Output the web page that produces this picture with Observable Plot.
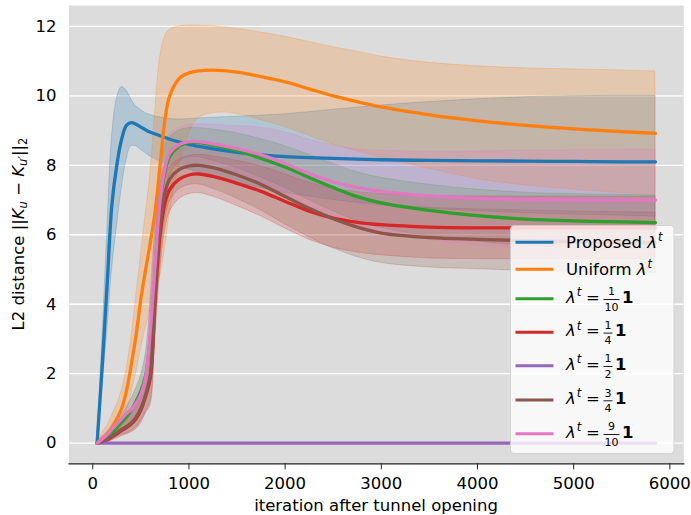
<!DOCTYPE html>
<html><head><meta charset="utf-8">
<script src="https://cdn.jsdelivr.net/npm/d3@7"></script>
<script src="https://cdn.jsdelivr.net/npm/@observablehq/plot@0.6"></script>
<style>
body{margin:0;background:#fff;font-family:"DejaVu Sans",sans-serif;}
#wrap{position:relative;width:691px;height:515px;overflow:hidden;}
</style></head><body><div id="wrap"></div>
<script>
// ---- data ----
const iterations = [45,100,150,200,250,300,350,400,450,500,550,600,650,700,750,800,900,1000,1100,1250,1500,1750,2000,2250,2500,2750,3000,3500,4000,4500,5000,5500,5850];

const proposedMean = [0,2.3,4.6,6.9,8.0,8.75,9.15,9.23,9.18,9.1,9.02,8.95,8.9,8.85,8.8,8.75,8.67,8.6,8.55,8.47,8.37,8.3,8.25,8.22,8.2,8.18,8.16,8.14,8.13,8.12,8.11,8.1,8.1];
const proposedHi   = [0,3.0,6.0,8.8,9.9,10.25,10.15,9.9,9.7,9.6,9.5,9.45,9.4,9.38,9.35,9.33,9.32,9.33,9.35,9.37,9.4,9.43,9.47,9.53,9.6,9.66,9.72,9.82,9.9,9.96,9.99,10.0,10.0];
const proposedLo   = [0,1.6,3.2,5.0,6.2,7.3,8.15,8.55,8.55,8.45,8.35,8.25,8.18,8.12,8.07,8.02,7.95,7.88,7.8,7.68,7.5,7.35,7.2,7.1,7.0,6.92,6.85,6.75,6.68,6.62,6.58,6.55,6.52];

const uniformMean = [0,0.15,0.28,0.45,0.7,1.0,1.5,2.25,3.1,4.15,5.0,5.8,6.7,8.0,9.3,10.0,10.5,10.66,10.72,10.74,10.68,10.55,10.4,10.2,10.0,9.83,9.68,9.45,9.28,9.15,9.05,8.97,8.92];
const uniformHi   = [0,0.3,0.5,0.8,1.1,1.5,2.1,3.0,4.2,5.4,6.6,7.8,9.6,11.1,11.7,11.9,12.0,12.02,12.02,12.0,11.93,11.82,11.7,11.55,11.4,11.27,11.13,10.95,10.85,10.79,10.76,10.73,10.7];
const uniformLo   = [0,0.05,0.1,0.15,0.3,0.5,0.9,1.4,2.0,2.7,3.3,3.8,4.3,4.8,5.6,6.6,8.0,8.9,9.35,9.5,9.48,9.3,9.1,8.85,8.6,8.4,8.22,7.9,7.6,7.42,7.3,7.2,7.15];

const tenthMean = [0,0.1,0.2,0.3,0.45,0.6,0.75,0.95,1.2,1.5,1.95,3.1,5.0,6.9,7.8,8.25,8.55,8.65,8.65,8.58,8.42,8.2,7.95,7.65,7.36,7.1,6.92,6.7,6.55,6.45,6.4,6.37,6.35];
const tenthSd   = [0,0.05,0.08,0.12,0.16,0.2,0.25,0.3,0.38,0.45,0.6,0.9,1.2,1.0,0.7,0.55,0.45,0.42,0.42,0.45,0.5,0.55,0.6,0.65,0.68,0.7,0.72,0.74,0.75,0.76,0.77,0.78,0.78];

const quarterMean = [0,0.05,0.1,0.18,0.27,0.36,0.45,0.55,0.7,0.95,1.35,1.9,4.2,6.0,6.9,7.3,7.6,7.72,7.75,7.68,7.48,7.25,6.96,6.68,6.48,6.36,6.29,6.22,6.2,6.2,6.2,6.2,6.2];
const quarterSd   = [0,0.05,0.08,0.1,0.13,0.16,0.2,0.24,0.3,0.38,0.5,0.8,1.2,1.1,0.8,0.65,0.57,0.55,0.55,0.58,0.65,0.72,0.78,0.82,0.85,0.87,0.88,0.9,0.9,0.9,0.9,0.9,0.9];

const halfMean = [0,0,0,0,0,0,0,0,0,0,0,0,0,0,0,0,0,0,0,0,0,0,0,0,0,0,0,0,0,0,0,0,0];
const halfSd   = [0,0,0,0,0,0,0,0,0,0,0,0,0,0,0,0,0,0,0,0,0,0,0,0,0,0,0,0,0,0,0,0,0];

const threeQuarterMean = [0,0.05,0.12,0.2,0.3,0.4,0.48,0.58,0.75,1.0,1.4,2.0,4.4,6.3,7.2,7.6,7.88,7.98,8.0,7.93,7.72,7.45,7.1,6.76,6.46,6.22,6.05,5.92,5.87,5.83,5.8,5.78,5.77];
const threeQuarterSd   = [0,0.05,0.08,0.1,0.13,0.16,0.2,0.24,0.3,0.38,0.5,0.8,1.2,1.1,0.8,0.65,0.57,0.55,0.55,0.6,0.68,0.75,0.8,0.83,0.85,0.86,0.86,0.86,0.86,0.87,0.87,0.87,0.87];

const nineTenthMean = [0,0.12,0.25,0.4,0.55,0.7,0.85,0.97,1.15,1.4,1.9,3.3,5.2,7.0,7.9,8.35,8.6,8.68,8.68,8.62,8.48,8.3,8.05,7.76,7.52,7.36,7.25,7.12,7.05,7.02,7.0,7.0,7.0];
const nineTenthSd   = [0,0.05,0.08,0.12,0.16,0.2,0.25,0.3,0.38,0.45,0.6,0.9,1.2,1.0,0.7,0.55,0.48,0.48,0.5,0.55,0.65,0.78,0.9,0.98,1.05,1.1,1.17,1.27,1.35,1.4,1.43,1.45,1.45];

const seriesKeys = ["proposed","uniform","tenth","quarter","half","threeQuarter","nineTenth"];
const seriesColors = ["#1f77b4","#ff7f0e","#2ca02c","#d62728","#9467bd","#8c564b","#e377c2"];
const legendNames = ["Proposed","Uniform",null,null,null,null,null];
const legendFractions = [null,null,["1","10"],["1","4"],["1","2"],["3","4"],["9","10"]];
const xTicks = [0,1000,2000,3000,4000,5000,6000];
const yTicks = [0,2,4,6,8,10,12];

// ---- build table ----
const seriesData = [
  {key:"proposed", mean:proposedMean, lo:proposedLo, hi:proposedHi},
  {key:"uniform", mean:uniformMean, lo:uniformLo, hi:uniformHi},
  {key:"tenth", mean:tenthMean, sd:tenthSd},
  {key:"quarter", mean:quarterMean, sd:quarterSd},
  {key:"half", mean:halfMean, sd:halfSd},
  {key:"threeQuarter", mean:threeQuarterMean, sd:threeQuarterSd},
  {key:"nineTenth", mean:nineTenthMean, sd:nineTenthSd}
];
const rows = seriesData.flatMap(s => iterations.map((x, i) => ({
  series: s.key, x, mean: s.mean[i],
  lo: s.sd ? s.mean[i] - s.sd[i] : s.lo[i],
  hi: s.sd ? s.mean[i] + s.sd[i] : s.hi[i]
})));

const FS = 16.5;
const CURVE = "catmull-rom";
const chart = Plot.plot({
  width: 691, height: 515,
  marginLeft: 68.5, marginRight: 7.7, marginTop: 5, marginBottom: 51.7,
  style: {fontFamily: "DejaVu Sans", fontSize: FS + "px", background: "transparent", color: "#000", overflow: "visible"},
  x: {domain: [-247, 6145]},
  y: {domain: [-0.593, 12.6]},
  color: {domain: seriesKeys, range: seriesColors},
  marks: [
    Plot.frame({fill: "#dcdcdc", stroke: null}),
    Plot.gridY(yTicks, {stroke: "#fff", strokeOpacity: 1, strokeWidth: 1.3}),
    Plot.areaY(rows, {x: "x", y1: "lo", y2: "hi", z: "series", fill: "series", fillOpacity: 0.22, stroke: "series", strokeOpacity: 0.25, strokeWidth: 1, curve: CURVE}),
    Plot.lineY(rows, {x: "x", y: "mean", z: "series", stroke: "series", strokeWidth: 3.3, curve: CURVE}),
    Plot.frame({anchor: "bottom", stroke: "#222", strokeWidth: 1.2}),
    Plot.axisX(xTicks, {tickSize: 6, tickPadding: 7, tickFormat: d => String(d), label: null, stroke: "#222", fontSize: FS}),
    Plot.axisY(yTicks, {tickSize: 0, tickPadding: 12.5, tickFormat: d => String(d), label: null, fontSize: FS})
  ]
});
document.getElementById("wrap").appendChild(chart);

const svg = d3.select(chart);
// axis titles
svg.append("text").attr("x", 376).attr("y", 510.5).attr("text-anchor", "middle")
  .attr("font-family", "DejaVu Sans").attr("font-size", FS).attr("fill", "#000")
  .text("iteration after tunnel opening");
const yl = svg.append("text").attr("transform", "translate(23.5,234) rotate(-90)").attr("text-anchor", "middle")
  .attr("font-family", "DejaVu Sans").attr("font-size", FS).attr("fill", "#000");
yl.append("tspan").text("L2 distance ||");
yl.append("tspan").attr("font-style", "italic").text("K");
yl.append("tspan").attr("font-style", "italic").attr("font-size", 11.5).attr("dy", 3).text("u");
yl.append("tspan").attr("dy", -3).text(" − ");
yl.append("tspan").attr("font-style", "italic").text("K");
yl.append("tspan").attr("font-style", "italic").attr("font-size", 11.5).attr("dy", 3).text("u′");
yl.append("tspan").attr("dy", -3).text("||");
yl.append("tspan").attr("font-size", 11.5).attr("dy", 3).text("2");

// legend
const rowCenters = [242.3, 269.3, 298.7, 332.3, 365.7, 400, 433.7];
const lg = svg.append("g").attr("font-family", "DejaVu Sans").attr("font-size", FS).attr("fill", "#000").attr("text-anchor", "start");
lg.append("rect").attr("x", 510.5).attr("y", 225.5).attr("width", 163.5).attr("height", 228).attr("rx", 3.5)
  .attr("fill", "#fff").attr("fill-opacity", 0.8).attr("stroke", "#ccc").attr("stroke-opacity", 0.8);
rowCenters.forEach((cy, i) => {
  lg.append("line").attr("x1", 515.5).attr("x2", 553.5).attr("y1", cy).attr("y2", cy)
    .attr("stroke", seriesColors[i]).attr("stroke-width", 3);
  if (legendNames[i]) {
    const t = lg.append("text").attr("x", 566).attr("y", cy + 5.7);
    t.append("tspan").text(legendNames[i] + " ");
    t.append("tspan").attr("font-style", "italic").text("λ");
    t.append("tspan").attr("font-style", "italic").attr("font-size", 11.5).attr("dy", -6.7).attr("dx", 1).text("t");
  } else {
    const base = cy + 4;
    const t = lg.append("text").attr("x", 566).attr("y", base);
    t.append("tspan").attr("font-style", "italic").text("λ");
    t.append("tspan").attr("font-style", "italic").attr("font-size", 11.5).attr("dy", -6.7).attr("dx", 1).text("t");
    lg.append("text").attr("x", 586).attr("y", base).text("=");
    const [num, den] = legendFractions[i];
    const n = lg.append("text").attr("font-size", 11).attr("text-anchor", "middle").attr("y", cy - 3.5).text(num);
    const d = lg.append("text").attr("font-size", 11).attr("text-anchor", "middle").attr("y", cy + 12).text(den);
    const w = Math.max(n.node().getComputedTextLength(), d.node().getComputedTextLength());
    const fx0 = 603.5;
    n.attr("x", fx0 + 1 + w / 2); d.attr("x", fx0 + 1 + w / 2);
    lg.append("line").attr("x1", fx0).attr("x2", fx0 + w + 2).attr("y1", cy + 0.8).attr("y2", cy + 0.8)
      .attr("stroke", "#000").attr("stroke-width", 0.9);
    lg.append("text").attr("x", fx0 + w + 4.5).attr("y", base).attr("font-weight", "bold").text("1");
  }
});
</script>
</body></html>
